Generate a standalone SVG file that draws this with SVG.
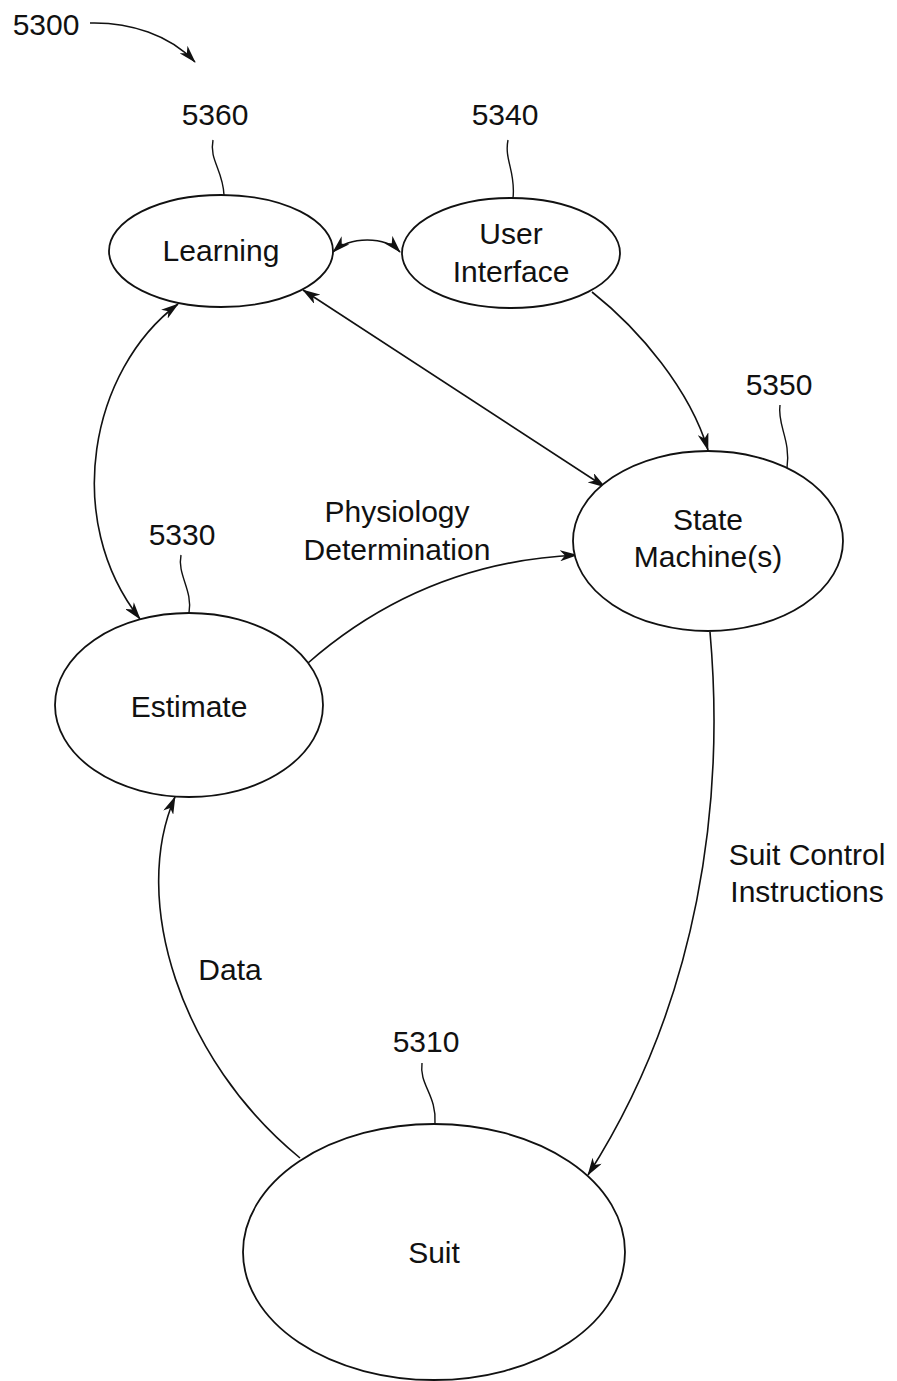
<svg xmlns="http://www.w3.org/2000/svg" width="897" height="1381" viewBox="0 0 897 1381">
<style>
.node{fill:#fff;stroke:#111;stroke-width:1.8}
.conn{fill:none;stroke:#111;stroke-width:1.6}
.lead{fill:none;stroke:#111;stroke-width:1.4}
text{font-family:"Liberation Sans",Arial,sans-serif;font-size:30px;fill:#111;text-anchor:middle}
</style>
<defs>
<marker id="ah" viewBox="0 0 18 11" refX="17" refY="5.5" markerWidth="18" markerHeight="11" markerUnits="userSpaceOnUse" orient="auto-start-reverse">
<path d="M0,0 L18,5.5 L0,11 L5,5.5 Z" fill="#111"/>
</marker>
</defs>
<rect width="897" height="1381" fill="#fff"/>
<g id="ref-5300">
<text x="46" y="35">5300</text>
<path class="lead" d="M90,23 C130,22 170,35 195,62" marker-end="url(#ah)"/>
</g>
<g id="connectors">
<path class="conn" d="M333,252 C350,236 385,236 400,252" marker-start="url(#ah)" marker-end="url(#ah)"/>
<path class="conn" d="M303,290 L605,487" marker-start="url(#ah)" marker-end="url(#ah)"/>
<path class="conn" d="M592,292 C640,330 690,390 708,450" marker-end="url(#ah)"/>
<path class="conn" d="M178,304 C90,370 62,520 140,619" marker-start="url(#ah)" marker-end="url(#ah)"/>
<path class="conn" d="M308,663 C380,600 470,560 577,555" marker-end="url(#ah)"/>
<path class="conn" d="M710,632 C725,800 700,1000 588,1175" marker-end="url(#ah)"/>
<path class="conn" d="M300,1158 C180,1060 130,900 175,797" marker-end="url(#ah)"/>
<text x="397" y="522">Physiology</text>
<text x="397" y="560">Determination</text>
<text x="807" y="865">Suit Control</text>
<text x="807" y="902">Instructions</text>
<text x="230" y="980">Data</text>
</g>
<g id="node-learning">
<ellipse class="node" cx="221" cy="251" rx="112" ry="56"/>
<text x="221" y="261">Learning</text>
<text x="215" y="125">5360</text>
<path class="lead" d="M213,140 C209,160 223,170 224,195"/>
</g>
<g id="node-ui">
<ellipse class="node" cx="511" cy="253" rx="109" ry="55"/>
<text x="511" y="244">User</text>
<text x="511" y="282">Interface</text>
<text x="505" y="125">5340</text>
<path class="lead" d="M508,140 C504,160 516,172 513,198"/>
</g>
<g id="node-state">
<ellipse class="node" cx="708" cy="541" rx="135" ry="90"/>
<text x="708" y="530">State</text>
<text x="708" y="567">Machine(s)</text>
<text x="779" y="395">5350</text>
<path class="lead" d="M780,405 C777,425 791,440 787,468"/>
</g>
<g id="node-estimate">
<ellipse class="node" cx="189" cy="705" rx="134" ry="92"/>
<text x="189" y="717">Estimate</text>
<text x="182" y="545">5330</text>
<path class="lead" d="M181,555 C177,575 193,590 189,613"/>
</g>
<g id="node-suit">
<ellipse class="node" cx="434" cy="1252" rx="191" ry="128"/>
<text x="434" y="1263">Suit</text>
<text x="426" y="1052">5310</text>
<path class="lead" d="M422,1063 C419,1085 437,1095 435,1124"/>
</g>
</svg>
